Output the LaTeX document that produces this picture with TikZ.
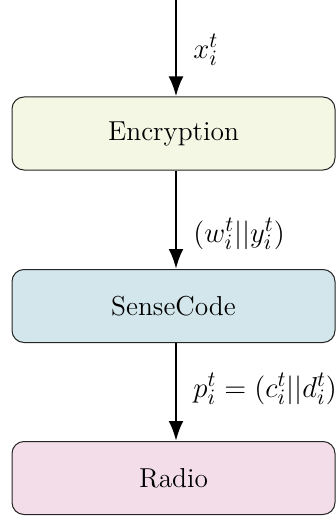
\documentclass[tikz,border=0pt]{standalone}
\usetikzlibrary{arrows.meta}
\definecolor{encfill}{RGB}{244,247,228}
\definecolor{scfill}{RGB}{211,230,236}
\definecolor{radfill}{RGB}{242,221,232}
\tikzset{
  box/.style={draw=black!85, line width=0.5pt, rounded corners=6pt, minimum width=161.5pt, minimum height=36.5pt, inner sep=0pt, font=\fontsize{13.7}{16}\selectfont},
  flow/.style={line width=1.4pt, -{Latex[length=10pt,width=7.5pt]}},
  lbl/.style={anchor=west, inner sep=0pt, font=\fontsize{15.5}{18}\selectfont}
}
\begin{document}
\begin{tikzpicture}[x=0.5pt,y=-0.5pt]
\useasboundingbox (0,0) rectangle (336,519);
\coordinate (top) at (176,0);
\node[box, fill=encfill] (enc) at (173.5,133.5) {Encryption};
\node[box, fill=scfill] (sc) at (173.5,306) {SenseCode};
\node[box, fill=radfill] (radio) at (173.5,478) {Radio};
\draw[flow] (top) -- (top |- enc.north);
\draw[flow] (enc.south -| top) -- (sc.north -| top);
\draw[flow] (sc.south -| top) -- (radio.north -| top);
\node[lbl] (l1) at (193,50) {$x_i^t$};
\node[lbl] (l2) at (193,234) {$(w_i^t||y_i^t)$};
\node[lbl] (l3) at (193,389) {$p_i^t=(c_i^t||d_i^t)$};
\end{tikzpicture}
\end{document}
